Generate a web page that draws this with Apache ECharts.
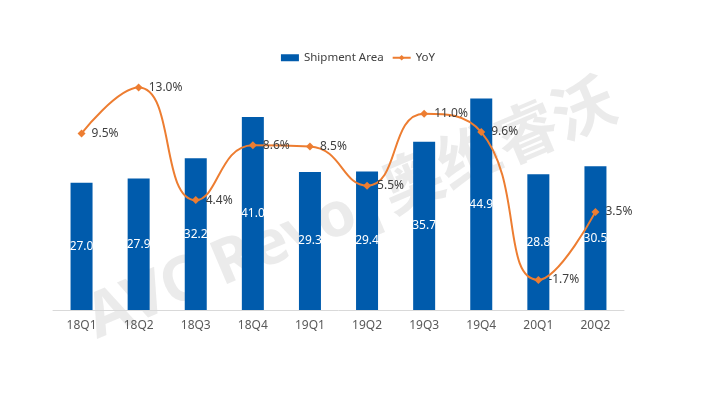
<!DOCTYPE html>
<html><head><meta charset="utf-8">
<script src="https://cdn.jsdelivr.net/npm/echarts@6/dist/echarts.min.js"></script>
<style>html,body{margin:0;padding:0;background:#fff}#c{width:716px;height:393px}</style>
</head><body><div id="c"></div>
<script>
const categories = ['18Q1','18Q2','18Q3','18Q4','19Q1','19Q2','19Q3','19Q4','20Q1','20Q2'];
const shipmentArea = [27.0, 27.9, 32.2, 41.0, 29.3, 29.4, 35.7, 44.9, 28.8, 30.5];
const yoy = [9.5, 13.0, 4.4, 8.6, 8.5, 5.5, 11.0, 9.6, -1.7, 3.5];

const chart = echarts.init(document.getElementById('c'));
const font = "'Noto Sans', 'Noto Sans CJK SC', sans-serif";
chart.setOption({
  animation: false,
  textStyle: { fontFamily: font },
  graphic: [{
    type: 'text', left: 78, top: 72, rotation: 23 * Math.PI / 180,
    z: 0, silent: true,
    style: { text: 'AVC Revo|奥维睿沃', font: 'bold 62px ' + font, fill: 'rgba(190,190,190,0.3)' }
  }],
  legend: {
    top: 47, left: 'center', itemGap: 8, itemWidth: 18, itemHeight: 7,
    textStyle: { color: '#404040', fontSize: 11.5, fontFamily: font },
    data: [
      { name: 'Shipment Area', icon: 'rect' },
      { name: 'YoY' }
    ]
  },
  grid: { left: 53, right: 92, top: 74.5, bottom: 83, containLabel: false },
  xAxis: {
    type: 'category', data: categories,
    axisLine: { lineStyle: { color: '#D9D9D9', width: 1 } },
    axisTick: { show: false },
    axisLabel: { color: '#595959', fontSize: 12, margin: 10, fontFamily: font }
  },
  yAxis: [
    { type: 'value', min: 0, max: 50, show: false, splitLine: { show: false } },
    { type: 'value', min: -4, max: 14, show: false, splitLine: { show: false } }
  ],
  series: [
    {
      name: 'Shipment Area', type: 'bar', data: shipmentArea, barWidth: 22, z: 2,
      itemStyle: { color: '#005BAC' },
      label: { show: true, position: 'inside', color: '#fff', fontSize: 12, fontFamily: font,
        formatter: p => p.value.toFixed(1) }
    },
    {
      name: 'YoY', type: 'line', yAxisIndex: 1, data: yoy, smooth: 0.5, z: 3,
      symbol: 'diamond', symbolSize: 8,
      lineStyle: { color: '#ED7D31', width: 2 },
      itemStyle: { color: '#ED7D31' },
      label: { show: true, position: 'right', distance: 6, color: '#404040', fontSize: 12, fontFamily: font,
        formatter: p => p.value.toFixed(1) + '%' }
    }
  ]
});
</script></body></html>
